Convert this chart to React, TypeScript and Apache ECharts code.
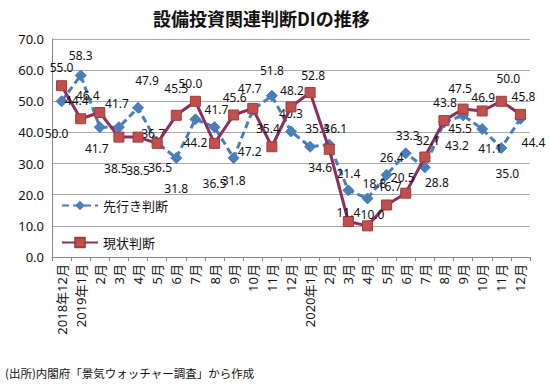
import React, { useEffect, useRef } from "react";
import * as echarts from "echarts";

const categories = [
  "2018年12月", "2019年1月", "2月", "3月", "4月", "5月", "6月", "7月", "8月", "9月", "10月", "11月", "12月",
  "2020年1月", "2月", "3月", "4月", "5月", "6月", "7月", "8月", "9月", "10月", "11月", "12月",
];

const outlookValues = [50.0, 58.3, 41.7, 41.7, 47.9, 36.7, 31.8, 44.2, 41.7, 31.8, 47.2, 51.8, 40.3, 35.4, 36.1, 21.4, 18.8, 26.4, 33.3, 28.8, 43.2, 45.5, 41.1, 35.0, 44.4];
const currentValues = [55.0, 44.4, 46.4, 38.5, 38.5, 36.5, 45.5, 50.0, 36.5, 45.6, 47.7, 35.4, 48.2, 52.8, 34.6, 11.4, 10.0, 16.7, 20.5, 32.1, 43.8, 47.5, 46.9, 50.0, 45.8];

const yTicks = [0, 10, 20, 30, 40, 50, 60, 70];

// label placement (dx, dy up) per point — layout only
const outlookLabelDx = [-5, 0, -3, -2, 9, -4, 0, 0, 2, 0, -3, 0, 0, 7, 6, 0, 7, 5, 2, 12, 13, -3, 8, 6, 13];
const outlookLabelDy = [-32, 20, -21, 24, 27, 9, -31, -23, 18, -23, -41, 25, 18, 18, 16, 17, 15, 17, 18, -15, -23, -13, -19, -25, -24];
const currentLabelDx = [0, -4, -12, -3, 0, 3, 0, -5, 0, 1, -3, -4, 1, 3, -9, 0, 5, 3, -3, 3, 1, -3, 1, 7, 3];
const currentLabelDy = [18, 18, 17, -31, -33, -24, 27, 18, -40, 17, 20, 18, 16, 17, -18, 9, 11, 18, 16, 17, 18, 21, 13, 23, 18];

const FONT = "'Noto Sans', 'Noto Sans CJK JP', sans-serif";
const CJK = "'Noto Sans CJK JP', sans-serif";

function buildData(values: number[], dx: number[], dy: number[]) {
  return values.map((v, i) => ({
    value: v,
    label: {
      show: true,
      position: "inside",
      offset: [dx[i], -dy[i]],
      formatter: (p: any) => Number(p.value).toFixed(1),
      color: "#111",
      fontSize: 12,
      fontFamily: FONT,
    },
  }));
}

export default function App() {
  const ref = useRef<HTMLDivElement>(null);
  useEffect(() => {
    document.body.style.margin = "0";
    const chart = echarts.init(ref.current!, null, { renderer: "svg" });
    chart.setOption({
      animation: false,
      backgroundColor: "#fff",
      title: {
        text: "設備投資関連判断DIの推移",
        left: 148,
        top: 4,
        textStyle: { fontSize: 18, fontWeight: "bold", color: "#111", fontFamily: CJK },
      },
      graphic: [
        {
          type: "text",
          left: 5,
          top: 367,
          style: {
            text: "(出所)内閣府「景気ウォッチャー調査」から作成",
            fontSize: 11.5,
            fill: "#111",
            fontFamily: CJK,
          },
        },
      ],
      legend: {
        orient: "vertical",
        left: 56,
        top: 194,
        itemGap: 24,
        itemWidth: 36,
        itemHeight: 12,
        textStyle: { fontSize: 13, color: "#111", fontFamily: CJK },
        data: ["先行き判断", "現状判断"],
      },
      grid: { left: 52, right: 20, top: 39, bottom: 129 },
      xAxis: {
        type: "category",
        data: categories,
        boundaryGap: true,
        axisLine: { lineStyle: { color: "#888" } },
        axisTick: { show: true, length: 4, lineStyle: { color: "#888" } },
        axisLabel: { interval: 0, rotate: 90, fontSize: 13, color: "#111", margin: 7, fontFamily: FONT },
      },
      yAxis: {
        type: "value",
        min: yTicks[0],
        max: yTicks[yTicks.length - 1],
        interval: 10,
        axisLine: { show: true, lineStyle: { color: "#888" } },
        axisTick: { show: false },
        splitLine: { lineStyle: { color: "#aaa" } },
        axisLabel: { formatter: (v: number) => v.toFixed(1), fontSize: 13, color: "#111", margin: 8, fontFamily: FONT },
      },
      series: [
        {
          name: "先行き判断",
          type: "line",
          data: buildData(outlookValues, outlookLabelDx, outlookLabelDy),
          symbol: "diamond",
          symbolSize: 11,
          lineStyle: { color: "#4A7EBB", width: 3, type: [7, 4] },
          itemStyle: { color: "#4A7EBB", borderColor: "#4A7EBB" },
          z: 2,
        },
        {
          name: "現状判断",
          type: "line",
          data: buildData(currentValues, currentLabelDx, currentLabelDy),
          symbol: "rect",
          symbolSize: 10,
          lineStyle: { color: "#8B2F5E", width: 3 },
          itemStyle: { color: "#C0504D", borderColor: "#A03C3A", borderWidth: 1 },
          z: 3,
        },
      ],
    });
    return () => chart.dispose();
  }, []);
  return <div ref={ref} style={{ width: 550, height: 386 }} />;
}
